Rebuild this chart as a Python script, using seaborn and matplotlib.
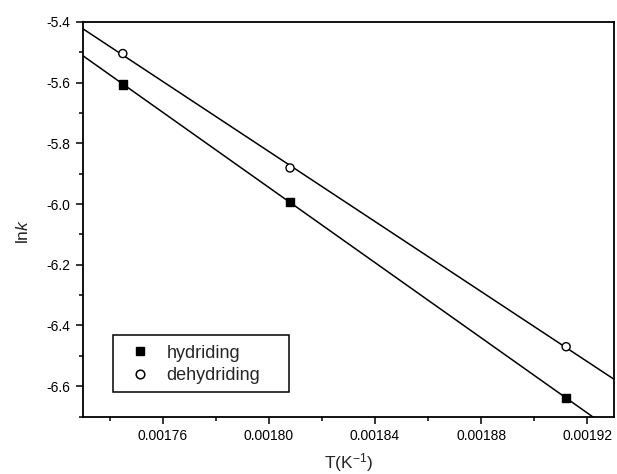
import numpy as np
import pandas as pd
import matplotlib
matplotlib.use("Agg")
import matplotlib.pyplot as plt
from matplotlib.ticker import MultipleLocator, FormatStrFormatter
from matplotlib.lines import Line2D
from matplotlib.patches import Rectangle
import seaborn as sns

# Arrhenius data: inverse temperature vs ln k
inv_T = [0.001745, 0.001808, 0.001912]
lnk_hydriding = [-5.606, -5.992, -6.640]
lnk_dehydriding = [-5.504, -5.881, -6.470]
series_names = ["hydriding", "dehydriding"]

x_range = (0.00173, 0.00193)
y_range = (-6.7, -5.4)

sns.set_theme(style="ticks")
plt.rcParams["font.family"] = ["Liberation Sans", "DejaVu Sans"]
plt.rcParams["mathtext.fontset"] = "custom"
plt.rcParams["mathtext.rm"] = "Liberation Sans"
plt.rcParams["mathtext.it"] = "Liberation Sans:italic"

df = pd.DataFrame({
    "invT": inv_T * 2,
    "lnk": lnk_hydriding + lnk_dehydriding,
    "series": [series_names[0]] * 3 + [series_names[1]] * 3,
})

fig, ax = plt.subplots(figsize=(6.17, 4.74), dpi=100)
fig.subplots_adjust(left=0.1345, right=0.995, top=0.9536, bottom=0.1213)

# Linear fits extended over the whole axis range
xfit = np.linspace(*x_range, 50)
for name, vals in zip(series_names, [lnk_hydriding, lnk_dehydriding]):
    slope, intercept = np.polyfit(inv_T, vals, 1)
    sns.lineplot(x=xfit, y=slope * xfit + intercept, ax=ax, color="black",
                 linewidth=1.1, legend=False)

sns.scatterplot(data=df, x="invT", y="lnk", style="series", ax=ax,
                markers={"hydriding": "s", "dehydriding": "o"},
                color="black", s=34, zorder=5, legend=False)
pts = ax.collections[-1]
pts.set_facecolors([(0, 0, 0, 1)] * 3 + [(1, 1, 1, 1)] * 3)
pts.set_edgecolors("black")
pts.set_linewidths(1.0)

ax.set_xlim(*x_range)
ax.set_ylim(*y_range)
ax.xaxis.set_major_locator(MultipleLocator(0.00004))
ax.xaxis.set_minor_locator(MultipleLocator(0.00002))
ax.yaxis.set_major_locator(MultipleLocator(0.2))
ax.yaxis.set_minor_locator(MultipleLocator(0.1))
ax.xaxis.set_major_formatter(FormatStrFormatter("%.5f"))
ax.yaxis.set_major_formatter(FormatStrFormatter("%.1f"))
ax.tick_params(which="major", direction="out", length=5, width=1.1,
               labelsize=10, color="black", labelcolor="black", pad=4)
ax.tick_params(which="minor", direction="out", length=3, width=1.1, color="black")

for sp in ax.spines.values():
    sp.set_visible(True)
    sp.set_linewidth(1.3)
    sp.set_color("black")

ax.set_xlabel("T(K$^{-1}$)", fontsize=12.5, labelpad=5.5)
ax.set_ylabel(r"ln$\mathit{k}$", fontsize=12.5)
ax.yaxis.set_label_coords(-0.098, 0.47)

# Legend entries with a separately drawn frame
handles = [
    Line2D([], [], marker="s", linestyle="none", color="black",
           markerfacecolor="black", markersize=6.2),
    Line2D([], [], marker="o", linestyle="none", color="black",
           markerfacecolor="white", markersize=6.2, markeredgewidth=1.1),
]
ax.legend(handles, series_names, loc="center left",
          bbox_to_anchor=(0.091, 0.132), fontsize=13, frameon=False,
          handletextpad=0.94, borderpad=0, labelspacing=0.3,
          handlelength=1.0, borderaxespad=0)
ax.add_patch(Rectangle((0.0565, 0.062), 0.331, 0.1445, transform=ax.transAxes,
                       fill=False, edgecolor="black", linewidth=1.1, zorder=6))

fig.savefig("out.png", dpi=100)
